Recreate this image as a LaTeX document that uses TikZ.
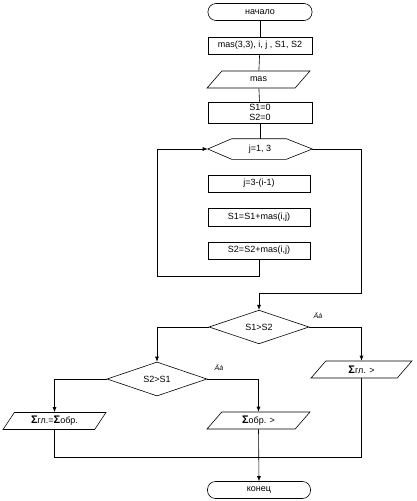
\documentclass[tikz,border=0pt]{standalone}
\usepackage{fontspec}
\setmainfont{Liberation Sans}
\usetikzlibrary{shapes.geometric,arrows.meta}

\tikzset{
	term/.style={draw, rounded corners=8pt, minimum width=104pt, minimum height=17pt, inner sep=0pt},
	proc/.style={draw, minimum width=102pt, minimum height=17pt, inner sep=0pt, align=center},
	io/.style={draw, trapezium, trapezium left angle=55, trapezium right angle=125, trapezium stretches=true, minimum width=103pt, minimum height=17pt, inner sep=0pt},
	cond/.style={draw, diamond, minimum width=100pt, minimum height=32pt, inner sep=0pt},
	arr/.style={-{Latex[length=5pt,width=4pt]}},
	yes/.style={font=\fontsize{7}{8}\selectfont\itshape}
}
\newcommand{\sig}{{\fontsize{11}{11}\selectfont\textbf{Σ}}}

\begin{document}
\begin{tikzpicture}[x=1pt, y=-1pt, font=\fontsize{9}{10}\selectfont, line width=0.6pt]
	\useasboundingbox (0,0) rectangle (416,501);
	\node[term] (start) at (260,12) {начало};
	\node[proc, minimum width=104pt] (decl) at (260,45.5) {mas(3,3), i, j , S1,  S2};
	\node[io] (inp) at (258.5,79.5) {mas};
	\node[proc, minimum width=104pt, minimum height=21pt] (init) at (260,112.5) {S1=0\\S2=0};
	\node[minimum width=104pt, minimum height=20pt, inner sep=0pt] (loop) at (260,149) {j=1, 3};
	\draw (loop.west) -- ([xshift=24pt]loop.north west) -- ([xshift=-26pt]loop.north east)
		-- (loop.east) -- ([xshift=-26pt]loop.south east) -- ([xshift=24pt]loop.south west) -- cycle;
	\node[proc] (b1) at (259,183.5) {j=3-(i-1)};
	\node[proc, minimum height=18pt] (b2) at (259,217) {S1=S1+mas(i,j)};
	\node[proc] (b3) at (259,250.5) {S2=S2+mas(i,j)};
	\node[cond] (c1) at (259,327) {S1>S2};
	\node[cond, minimum height=34pt] (c2) at (157,379) {S2>S1};
	\node[io, minimum width=101pt] (o1) at (361.5,369.5) {\sig гл. >};
	\node[io] (o2) at (54.5,421) {\sig гл.=\sig обр.};
	\node[io] (o3) at (258.5,420.5) {\sig обр. >};
	\node[term, minimum width=103pt] (stop) at (259,490) {конец};
	\node[yes] (y1) at (318,316) {Äà};
	\node[yes] (y2) at (219,368) {Äà};

	\coordinate (lb) at (157,276);
	\coordinate (lr) at (361,293);
	\coordinate (jn) at (259,457);

	\draw (start) -- (decl);
	\draw (decl) -- (inp);
	\draw (inp) -- (init);
	\draw (init) -- (loop);
	\draw[arr] (b3.south) |- (lb) |- (loop.west);
	\draw[arr] (loop.east) -| (lr) -| (c1.north);
	\draw[arr] (c1.east) -| (o1.north);
	\draw[arr] (c1.west) -| (c2.north);
	\draw[arr] (c2.west) -| (o2.north);
	\draw[arr] (c2.east) -| (o3.north);
	\draw (o2.south) |- (jn);
	\draw (o1.south) |- (jn);
	\draw[arr] (o3.south) -- (stop.north);
\end{tikzpicture}
\end{document}
